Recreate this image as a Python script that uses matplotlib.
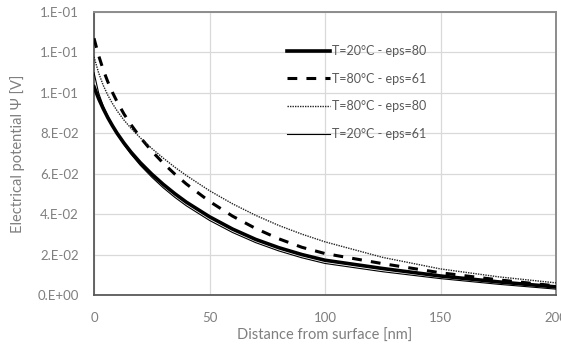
import matplotlib
matplotlib.use("Agg")
import matplotlib.pyplot as plt

plt.rcParams['font.family'] = ['Lato', 'DejaVu Sans']

distance_nm = [0, 2, 4, 6, 8, 10, 13, 16, 20, 25, 30, 35, 40, 50, 60, 70, 80, 90, 100,
               125, 150, 175, 200]

psi_T20_eps80 = [0.103, 0.0972, 0.0922, 0.0877, 0.0837, 0.0800, 0.0751, 0.0707, 0.0655,
                 0.0598, 0.0547, 0.0501, 0.0459, 0.0387, 0.0326, 0.0275, 0.0234, 0.0200,
                 0.0172, 0.0131, 0.0094, 0.0065, 0.0040]
psi_T80_eps61 = [0.127, 0.1185, 0.1114, 0.1054, 0.1002, 0.0956, 0.0895, 0.0843, 0.0780,
                 0.0712, 0.0652, 0.0598, 0.0549, 0.0463, 0.0390, 0.0329, 0.0278, 0.0236,
                 0.0205, 0.0155, 0.0110, 0.0075, 0.0045]
psi_T80_eps80 = [0.1178, 0.1099, 0.1037, 0.0988, 0.0947, 0.0911, 0.0865, 0.0825, 0.0778,
                 0.0725, 0.0677, 0.0632, 0.0591, 0.0516, 0.0451, 0.0394, 0.0344, 0.0301,
                 0.0263, 0.0186, 0.0129, 0.0090, 0.0060]
psi_T20_eps61 = [0.110, 0.1000, 0.0935, 0.0885, 0.0838, 0.0797, 0.0744, 0.0697, 0.0642,
                 0.0583, 0.0530, 0.0483, 0.0441, 0.0369, 0.0309, 0.0259, 0.0218, 0.0184,
                 0.0156, 0.0115, 0.0081, 0.0053, 0.0029]

series_labels = ["T=20°C - eps=80", "T=80°C - eps=61", "T=80°C - eps=80", "T=20°C - eps=61"]

x_ticks = [0, 50, 100, 150, 200]
y_ticks = [0.0, 0.02, 0.04, 0.06, 0.08, 0.10, 0.12, 0.14]
y_tick_labels = ["0.E+00", "2.E-02", "4.E-02", "6.E-02", "8.E-02", "1.E-01", "1.E-01", "1.E-01"]

x_label = "Distance from surface [nm]"
y_label = "Electrical potential Ψ [V]"

fig = plt.figure(figsize=(5.61, 3.53), dpi=100)
ax = fig.add_axes([94 / 561, 58 / 353, 462 / 561, 283 / 353])

ax.plot(distance_nm, psi_T20_eps80, color='black', lw=2.6, label=series_labels[0], zorder=3,
        solid_joinstyle='round')
ax.plot(distance_nm, psi_T80_eps61, color='black', lw=2.2, dashes=(3.2, 3.0),
        label=series_labels[1], zorder=3)
ax.plot(distance_nm, psi_T80_eps80, color='#222222', lw=1.0, dashes=(1.0, 0.8),
        label=series_labels[2], zorder=3)
ax.plot(distance_nm, psi_T20_eps61, color='black', lw=0.8, label=series_labels[3], zorder=3)

ax.set_xlim(0, 200)
ax.set_ylim(0, 0.14)
ax.set_xticks(x_ticks)
ax.set_xticklabels([str(v) for v in x_ticks])
ax.set_yticks(y_ticks)
ax.set_yticklabels(y_tick_labels)
ax.tick_params(length=0, labelsize=9.5, colors='#7f7f7f')
ax.tick_params(axis='y', pad=11)
ax.tick_params(axis='x', pad=12)

ax.grid(True, color='#d9d9d9', lw=0.9)
ax.set_axisbelow(True)

for side in ['top', 'right']:
    ax.spines[side].set_color('#8c8c8c')
    ax.spines[side].set_linewidth(1.4)
for side in ['left', 'bottom']:
    ax.spines[side].set_color('#595959')
    ax.spines[side].set_linewidth(1.3)

ax.set_xlabel(x_label, fontsize=10.5, color='#7f7f7f', labelpad=4)
ax.set_ylabel(y_label, fontsize=10.5, color='#7f7f7f', labelpad=9)

leg = ax.legend(loc='upper left', bbox_to_anchor=(0.405, 0.905), frameon=False,
                fontsize=9, handlelength=3.4, handletextpad=0.2, labelspacing=1.25,
                borderpad=0)
for t in leg.get_texts():
    t.set_color('#595959')

fig.savefig("out.png", dpi=100)
